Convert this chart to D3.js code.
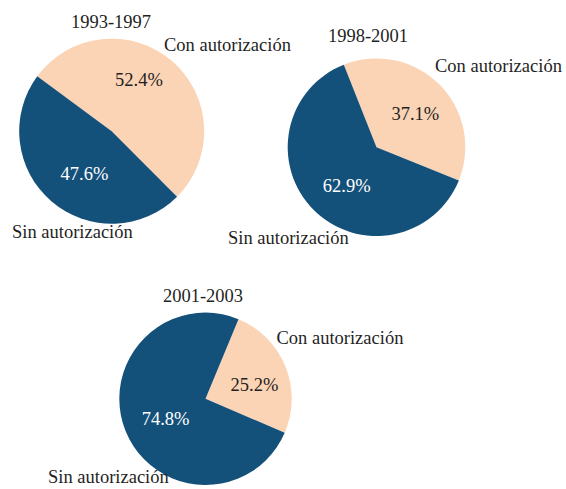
<!DOCTYPE html>
<html>
<head>
<meta charset="utf-8">
<script src="https://cdn.jsdelivr.net/npm/d3@7/dist/d3.min.js"></script>
<style>
  html, body { margin: 0; padding: 0; background: #ffffff; }
  svg { display: block; }
  text { font-family: "Liberation Serif", "Times New Roman", serif; font-size: 18.5px; }
</style>
</head>
<body>
<svg id="chart" width="566" height="489"></svg>
<script>
// Share of cases with and without authorization, by period (%)
const periods = ["1993-1997", "1998-2001", "2001-2003"];
const categories = ["Con autorización", "Sin autorización"];
const conAutorizacion = [52.4, 37.1, 25.2];
const sinAutorizacion = [47.6, 62.9, 74.8];

const colors = { "Con autorización": "#fbd3b5", "Sin autorización": "#14517a" };
const pctColors = { "Con autorización": "#1f1f1f", "Sin autorización": "#ffffff" };

// Layout of each pie: centre, radius, rotation, and where its texts sit
const layout = [
  { cx: 111.7, cy: 131.2, r: 92.5, start: -53.6,
    title: [111, 28], con: [164, 50.7], sin: [12, 238],
    nudge: { "Con autorización": [-9, -9], "Sin autorización": [9, 1] } },
  { cx: 376.5, cy: 147.2, r: 88.8, start: -21.6,
    title: [368, 41.7], con: [435, 71.7], sin: [228, 244.3],
    nudge: { "Con autorización": [1, 4], "Sin autorización": [8, 1] } },
  { cx: 205.5, cy: 398.8, r: 86.2, start: 22.5,
    title: [203, 301.7], con: [276.5, 344.3], sin: [48, 483.3],
    nudge: { "Con autorización": [1, 6], "Sin autorización": [8, 1] } }
];

const svg = d3.select("#chart");
const deg = Math.PI / 180;

periods.forEach((period, i) => {
  const L = layout[i];
  const data = [
    { cat: categories[0], value: conAutorizacion[i] },
    { cat: categories[1], value: sinAutorizacion[i] }
  ];

  const pie = d3.pie()
    .value(d => d.value)
    .sort(null)
    .startAngle(L.start * deg)
    .endAngle(L.start * deg + 2 * Math.PI);

  const arc = d3.arc().innerRadius(0).outerRadius(L.r);
  const labelArc = d3.arc().innerRadius(L.r * 0.6).outerRadius(L.r * 0.6);

  const g = svg.append("g").attr("transform", `translate(${L.cx},${L.cy})`);
  const arcs = pie(data);

  g.selectAll("path.slice")
    .data(arcs)
    .join("path")
    .attr("class", "slice")
    .attr("d", arc)
    .attr("fill", d => colors[d.data.cat]);

  g.selectAll("text.pct")
    .data(arcs)
    .join("text")
    .attr("class", "pct")
    .attr("transform", d => {
      const [x, y] = labelArc.centroid(d);
      const n = L.nudge[d.data.cat];
      return `translate(${x + n[0]},${y + n[1]})`;
    })
    .attr("text-anchor", "middle")
    .attr("dy", "0.33em")
    .attr("fill", d => pctColors[d.data.cat])
    .text(d => d.data.value.toFixed(1) + "%");

  // Period title
  svg.append("text")
    .attr("x", L.title[0]).attr("y", L.title[1])
    .attr("text-anchor", "middle")
    .attr("fill", "#1f1f1f")
    .text(period);

  // Category labels
  svg.append("text")
    .attr("x", L.con[0]).attr("y", L.con[1])
    .attr("fill", "#1f1f1f")
    .text(categories[0]);
  svg.append("text")
    .attr("x", L.sin[0]).attr("y", L.sin[1])
    .attr("fill", "#1f1f1f")
    .text(categories[1]);
});
</script>
</body>
</html>
